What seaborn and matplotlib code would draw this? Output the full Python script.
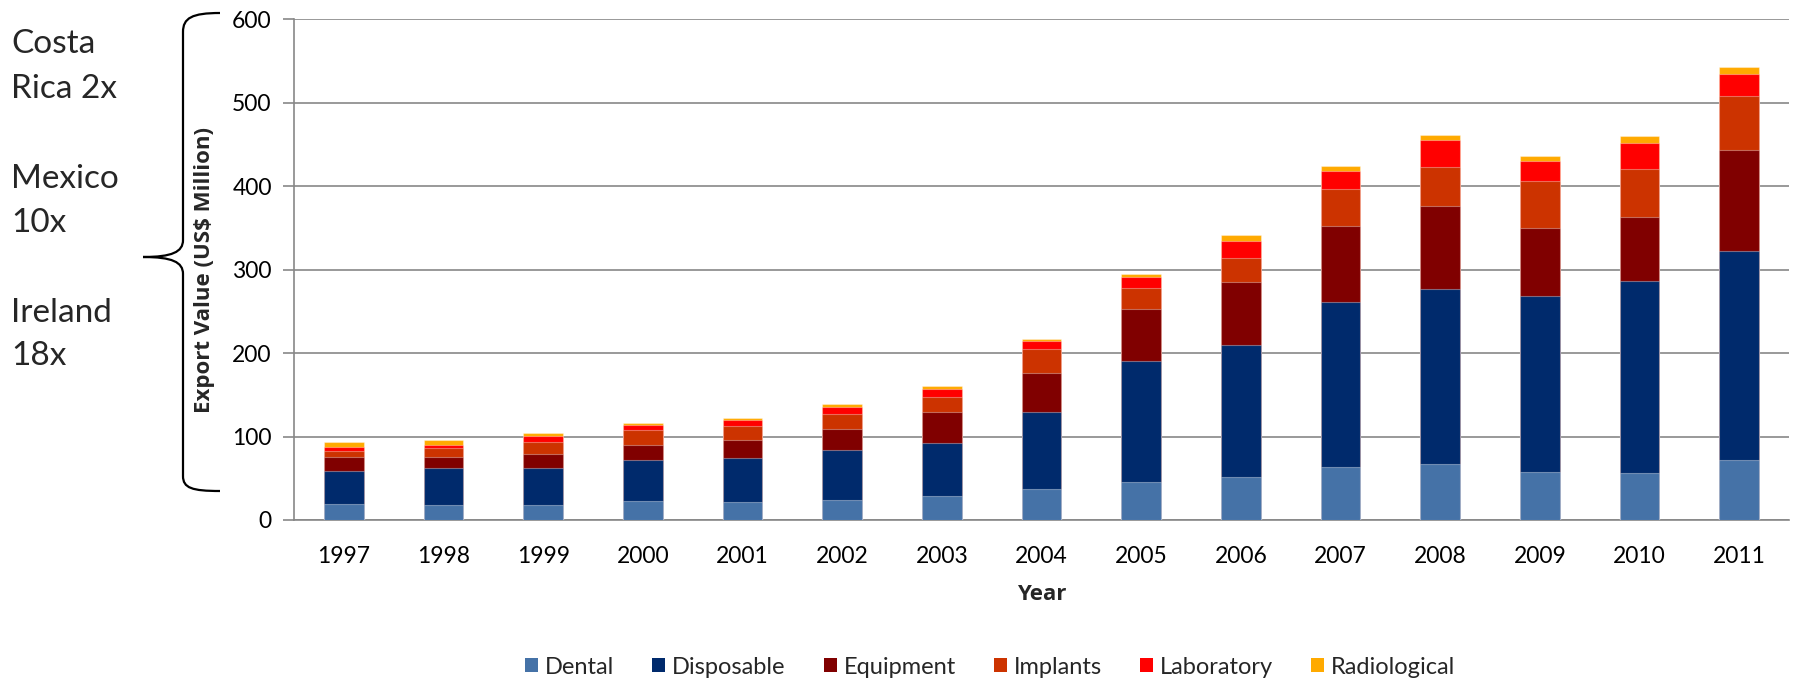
import numpy as np
import pandas as pd
import matplotlib
matplotlib.use("Agg")
import matplotlib.pyplot as plt
import seaborn as sns
from matplotlib.path import Path
from matplotlib.patches import PathPatch, Patch

# Export values by product category (US$ million)
years = [str(y) for y in range(1997, 2012)]
dental = [18.7, 17.4, 17.4, 22.4, 22.0, 23.6, 28.4, 37.3, 45.9, 51.5, 63.5, 67.0, 57.5, 56.3, 71.9]
disposable = [39.8, 44.6, 44.6, 50.0, 52.8, 60.8, 64.4, 92.0, 145.1, 158.5, 197.3, 209.4, 210.5, 230.7, 250.1]
equipment = [17.0, 14.0, 17.7, 17.6, 21.6, 24.8, 36.8, 47.4, 61.8, 74.8, 91.2, 100.2, 82.6, 76.4, 121.3]
implants = [7.5, 10.7, 14.3, 17.6, 16.8, 18.4, 18.4, 27.8, 24.8, 28.7, 44.8, 47.1, 55.4, 57.9, 64.7]
laboratory = [4.0, 3.3, 6.8, 6.4, 6.4, 8.0, 9.2, 10.0, 13.4, 21.2, 21.9, 31.6, 24.5, 31.2, 27.0]
radiological = [6.4, 5.9, 3.2, 2.4, 2.4, 4.0, 3.6, 2.8, 3.7, 6.8, 6.0, 6.7, 5.5, 8.0, 8.5]

categories = ["Dental", "Disposable", "Equipment", "Implants", "Laboratory", "Radiological"]
colors = ["#4572A7", "#002A6C", "#800000", "#CC3300", "#FF0000", "#FFAA00"]
y_ticks = [0, 100, 200, 300, 400, 500, 600]

side_notes = [("Costa", 53), ("Rica 2x", 98), ("Mexico", 188), ("10x", 232),
              ("Ireland", 322), ("18x", 365)]

df = pd.DataFrame({"Year": years, "Dental": dental, "Disposable": disposable,
                   "Equipment": equipment, "Implants": implants,
                   "Laboratory": laboratory, "Radiological": radiological})
cum = df[categories].cumsum(axis=1)
cum["Year"] = df["Year"]

sns.set_theme(style="white")
plt.rcParams["font.family"] = ["Lato", "DejaVu Sans"]
bold_font = ["Open Sans", "DejaVu Sans"]

W, H = 1795, 680
fig = plt.figure(figsize=(W / 100, H / 100), dpi=100)
ax = fig.add_axes([294 / W, 1 - 520 / H, (1789 - 294) / W, (520 - 19.5) / H])

# stacked bars: draw cumulative totals from the top segment down
for cat, col in reversed(list(zip(categories, colors))):
    sns.barplot(data=cum, x="Year", y=cat, color=col, width=0.4, ax=ax,
                edgecolor=(1, 1, 1, 0.35), linewidth=0.8, saturation=1, zorder=3)

grid_col = "#878787"
ax.set_ylim(0, 600)
ax.set_xlim(-0.5, len(years) - 0.5)
ax.set_yticks(y_ticks)
ax.yaxis.grid(True, color=grid_col, linewidth=1.2, zorder=0)
ax.set_axisbelow(True)
for s in ["top", "right"]:
    ax.spines[s].set_visible(False)
for s in ["left", "bottom"]:
    ax.spines[s].set_color(grid_col)
    ax.spines[s].set_linewidth(1.2)

ax.set_xticks(range(len(years)))
ax.set_xticklabels(years)
ax.set_xticks(np.arange(-0.5, len(years)), minor=True)
ax.tick_params(axis="x", which="major", length=0, pad=19, labelsize=16.5, colors="black")
ax.tick_params(axis="x", which="minor", length=8, width=1.2, color=grid_col, direction="out")
ax.tick_params(axis="y", length=8, width=1.2, color=grid_col, direction="out",
               pad=8, labelsize=16.5, labelcolor="black", left=True)

ax.set_ylabel("Export Value (US$ Million)", fontsize=16, fontweight="bold", family=bold_font)
ax.yaxis.set_label_coords(-0.0602, 0.5)
ax.yaxis.label.set_va("center")
ax.set_xlabel("Year", fontsize=16, fontweight="bold", family=bold_font)
ax.xaxis.set_label_coords(0.5, -0.148)
ax.xaxis.label.set_va("center")

handles = [Patch(facecolor=c, edgecolor="none", label=l) for l, c in zip(categories, colors)]
fig.legend(handles=handles, loc="center", bbox_to_anchor=(990 / W, 1 - 667 / H), ncol=6,
           frameon=False, fontsize=17, handlelength=0.55, handleheight=0.55,
           handletextpad=0.3, columnspacing=1.6)

# country growth notes and brace
for txt, yb in side_notes:
    fig.text(11 / W, 1 - yb / H, txt, fontsize=24, va="baseline", ha="left")

pts = [(220, 13), (192, 13), (183, 18), (183, 32),
       (183, 240),
       (183, 252), (172, 257), (143, 257),
       (172, 257), (183, 262), (183, 274),
       (183, 476),
       (183, 488), (192, 491), (220, 491)]
codes = [Path.MOVETO, Path.CURVE4, Path.CURVE4, Path.CURVE4,
         Path.LINETO,
         Path.CURVE4, Path.CURVE4, Path.CURVE4,
         Path.CURVE4, Path.CURVE4, Path.CURVE4,
         Path.LINETO,
         Path.CURVE4, Path.CURVE4, Path.CURVE4]
brace = Path([(x / W, 1 - y / H) for x, y in pts], codes)
fig.patches.append(PathPatch(brace, transform=fig.transFigure, facecolor="none",
                             edgecolor="black", linewidth=1.6))

fig.savefig("out.png", dpi=100)
